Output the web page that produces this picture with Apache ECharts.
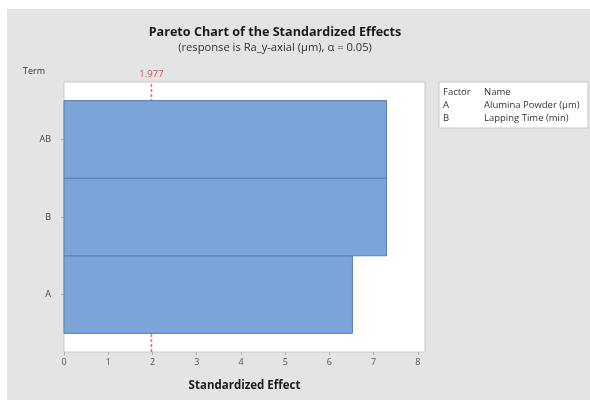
<!DOCTYPE html>
<html>
<head>
<meta charset="utf-8">
<script src="https://cdn.jsdelivr.net/npm/echarts@6/dist/echarts.min.js"></script>
<style>html,body{margin:0;padding:0;background:#fff}#c{width:590px;height:400px}</style>
</head>
<body>
<div id="c"></div>
<script>
var terms = ['A', 'B', 'AB'];
var effects = [6.52, 7.29, 7.29];
var criticalValue = 1.977;
var xTicks = [0, 1, 2, 3, 4, 5, 6, 7, 8];
var factorLetters = ['A', 'B'];
var factorNames = ['Alumina Powder (µm)', 'Lapping Time (min)'];
var titleText = 'Pareto Chart of the Standardized Effects';
var subText = '(response is Ra_y-axial (µm), α = 0.05)';

var FONT = '"Open Sans", "Noto Sans", sans-serif';
var chart = echarts.init(document.getElementById('c'));

var barData = effects.map(function (v, i) { return [v, i]; });

var legendChildren = [
  { type: 'rect', shape: { x: 0, y: 0, width: 149, height: 46 }, style: { fill: '#fff', stroke: '#c8c8c8', lineWidth: 1 } },
  { type: 'text', x: 4, y: 5, style: { text: 'Factor', fill: '#333', font: '9.5px ' + FONT } },
  { type: 'text', x: 45, y: 5, style: { text: 'Name', fill: '#333', font: '9.5px ' + FONT } }
];
factorLetters.forEach(function (f, i) {
  legendChildren.push({ type: 'text', x: 4, y: 18 + i * 13, style: { text: f, fill: '#333', font: '9.5px ' + FONT } });
  legendChildren.push({ type: 'text', x: 45, y: 18 + i * 13, style: { text: factorNames[i], fill: '#333', font: '9.5px ' + FONT } });
});

chart.setOption({
  backgroundColor: '#e4e4e4',
  animation: false,
  title: {
    text: titleText,
    subtext: subText,
    left: 270,
    top: 21,
    textAlign: 'center',
    itemGap: 3,
    textStyle: { fontFamily: FONT, fontSize: 12.6, fontWeight: 'bold', color: '#1a1a1a' },
    subtextStyle: { fontFamily: FONT, fontSize: 11.2, color: '#333' }
  },
  graphic: [
    { type: 'rect', shape: { x: 0, y: 0, width: 590, height: 9 }, style: { fill: '#fff' }, silent: true },
    { type: 'rect', shape: { x: 0, y: 0, width: 7, height: 400 }, style: { fill: '#fff' }, silent: true },
    { type: 'group', x: 439, y: 82, children: legendChildren }
  ],
  grid: {
    left: 64, top: 82, width: 361, height: 270,
    show: true, backgroundColor: '#fff', borderColor: '#c8c8c8', borderWidth: 1
  },
  xAxis: {
    type: 'value', min: 0, max: 8.16,
    name: 'Standardized Effect', nameLocation: 'middle', nameGap: 28,
    nameTextStyle: { fontFamily: FONT, fontSize: 11.5, fontWeight: 'bold', color: '#1a1a1a' },
    axisLine: { show: false, onZero: false },
    splitLine: { show: false },
    axisTick: { show: true, length: 3, lineStyle: { color: '#b0b0b0' }, customValues: xTicks },
    axisLabel: { customValues: xTicks, fontFamily: FONT, fontSize: 9, color: '#555', margin: 6 }
  },
  yAxis: {
    type: 'value', min: -0.74, max: 2.74,
    name: 'Term', nameLocation: 'end', nameGap: 6,
    nameTextStyle: { fontFamily: FONT, fontSize: 9, color: '#333', align: 'right', padding: [0, 19, 0, 0] },
    axisLine: { show: false, onZero: false },
    splitLine: { show: false },
    axisTick: { show: true, length: 3, lineStyle: { color: '#b0b0b0' }, customValues: [0, 1, 2] },
    axisLabel: {
      customValues: [0, 1, 2], fontFamily: FONT, fontSize: 9, color: '#444', margin: 13,
      formatter: function (v) { return terms[Math.round(v)]; }
    }
  },
  series: [
    {
      type: 'line',
      z: 1,
      data: [[criticalValue, -0.74], [criticalValue, 2.74]],
      showSymbol: false,
      symbol: 'none',
      lineStyle: { color: '#ee6e6e', width: 1.6, type: [3, 2], opacity: 1 },
      emphasis: { disabled: true },
      label: { show: false },
      markPoint: {
        symbol: 'circle',
        symbolSize: 1,
        itemStyle: { color: 'rgba(0,0,0,0)' },
        data: [{ coord: [criticalValue, 2.74], value: criticalValue }],
        label: { show: true, position: 'top', distance: 2, fontFamily: FONT, fontSize: 9.5, color: '#c85a5a', formatter: String(criticalValue) }
      }
    },
    {
      type: 'custom',
      z: 3,
      data: barData,
      encode: { x: 0, y: 1 },
      renderItem: function (params, api) {
        var v = api.value(0), idx = api.value(1);
        var p0 = api.coord([0, idx + 0.5]);
        var p1 = api.coord([v, idx - 0.5]);
        return {
          type: 'rect',
          shape: { x: p0[0], y: p0[1], width: p1[0] - p0[0], height: p1[1] - p0[1] },
          style: { fill: '#7ba5d8', stroke: '#5a7fae', lineWidth: 1 }
        };
      }
    }
  ]
});
</script>
</body>
</html>
